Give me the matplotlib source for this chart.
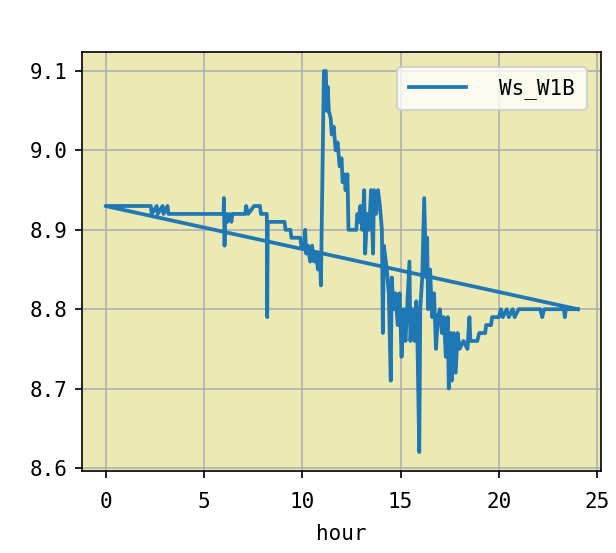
from matplotlib import pyplot as plt

plt.rcParams['font.family'] = ['DejaVu Sans Mono']

# wind speed trace, first row is the 24:00 reading
hours = [24.0,
         0.0, 1.0, 2.3, 2.35, 2.6, 2.65, 2.9, 2.95, 3.15, 3.2,
         6.0, 6.02, 6.05, 6.08, 6.15, 6.2, 6.3, 6.4, 6.45, 7.1,
         7.15, 7.25, 7.55, 7.85, 7.9, 8.2, 8.22, 8.25, 9.1, 9.15,
         9.4, 9.45, 9.9, 9.95, 10.1, 10.15, 10.2, 10.3, 10.4, 10.5,
         10.6, 10.7, 10.8, 10.9, 10.95, 11.0, 11.1, 11.2, 11.25, 11.3,
         11.35, 11.45, 11.5, 11.6, 11.7, 11.8, 11.9, 12.0, 12.05, 12.15,
         12.2, 12.3, 12.35, 12.75, 12.8, 12.9, 12.95, 13.05, 13.15, 13.2,
         13.3, 13.4, 13.5, 13.6, 13.65, 13.75, 13.85, 13.95, 14.05, 14.1,
         14.15, 14.3, 14.4, 14.5, 14.55, 14.65, 14.75, 14.85, 14.95, 15.05,
         15.15, 15.25, 15.35, 15.45, 15.5, 15.6, 15.7, 15.8, 15.85, 15.95,
         16.0, 16.1, 16.2, 16.3, 16.35, 16.4, 16.5, 16.6, 16.7, 16.8,
         16.9, 17.0, 17.1, 17.2, 17.3, 17.4, 17.45, 17.55, 17.6, 17.7,
         17.8, 17.9, 18.0, 18.2, 18.4, 18.5, 18.55, 18.9, 19.0, 19.3,
         19.35, 19.6, 19.65, 20.0, 20.1, 20.2, 20.4, 20.5, 20.7, 20.8,
         21.0, 22.1, 22.2, 22.3, 23.3, 23.35, 23.4, 24.0]
ws_w1b = [8.80,
          8.93, 8.93, 8.93, 8.92, 8.93, 8.92, 8.93, 8.92, 8.93, 8.92,
          8.92, 8.94, 8.88, 8.91, 8.92, 8.91, 8.92, 8.91, 8.92, 8.92,
          8.93, 8.92, 8.93, 8.93, 8.92, 8.92, 8.79, 8.91, 8.91, 8.90,
          8.90, 8.89, 8.89, 8.88, 8.88, 8.90, 8.87, 8.88, 8.86, 8.88,
          8.86, 8.87, 8.85, 8.87, 8.83, 8.92, 9.10, 9.10, 9.05, 9.08,
          9.05, 9.04, 9.02, 9.03, 9.00, 9.01, 8.98, 8.99, 8.96, 8.97,
          8.95, 8.97, 8.90, 8.90, 8.92, 8.91, 8.93, 8.90, 8.95, 8.87,
          8.92, 8.90, 8.95, 8.87, 8.95, 8.92, 8.95, 8.93, 8.90, 8.77,
          8.88, 8.85, 8.82, 8.71, 8.84, 8.80, 8.82, 8.78, 8.82, 8.74,
          8.80, 8.76, 8.81, 8.86, 8.76, 8.80, 8.76, 8.81, 8.77, 8.62,
          8.80, 8.84, 8.94, 8.84, 8.89, 8.80, 8.85, 8.79, 8.82, 8.75,
          8.79, 8.80, 8.77, 8.79, 8.74, 8.79, 8.70, 8.77, 8.71, 8.77,
          8.72, 8.77, 8.75, 8.76, 8.75, 8.79, 8.76, 8.76, 8.77, 8.77,
          8.78, 8.78, 8.79, 8.79, 8.80, 8.79, 8.80, 8.79, 8.80, 8.79,
          8.80, 8.80, 8.79, 8.80, 8.80, 8.79, 8.80, 8.80]

fig = plt.figure(figsize=(616 / 150, 553 / 150), dpi=150)
ax = fig.add_subplot(111)
fig.subplots_adjust(left=0.133, right=0.976, top=0.906, bottom=0.148)

ax.set_facecolor('#ebe9b4')
ax.plot(hours, ws_w1b, linewidth=1.8, label='Ws_W1B')
ax.grid(True)
ax.tick_params(axis='x', pad=6.4)
ax.set_xlabel('hour', labelpad=5.9)
ax.legend(loc='upper right', handlelength=2.75, handletextpad=1.6,
          borderpad=0.55, borderaxespad=0.7)

fig.savefig('out.png', dpi=150)
